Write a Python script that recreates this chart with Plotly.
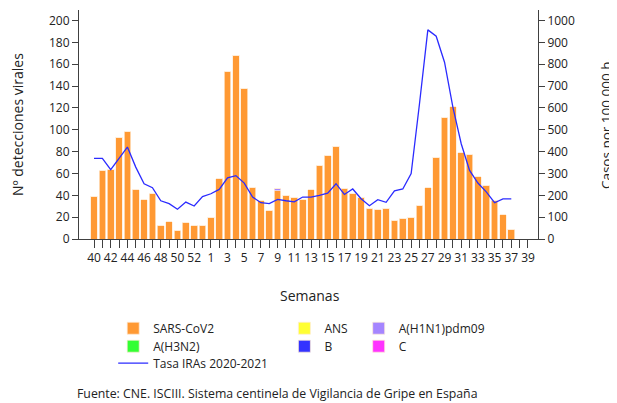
import plotly.graph_objects as go

weeks = [str(w) for w in range(40, 54)] + [str(w) for w in range(1, 40)]

sars = [39, 63, 64, 93, 98, 45, 36, 42, 12, 16, 8, 15, 12, 12,
        20, 55, 153, 168, 138, 47, 35, 26, 44, 40, 38, 36, 45, 67, 76, 85,
        46, 42, 38, 28, 27, 28, 17, 19, 20, 31, 47, 75, 111, 121, 79, 77,
        57, 49, 35, 22, 9, None, None]
h3n2 = [0] * 53
ans = [0] * 53
b_vals = [0] * 53
h1n1 = [0] * 53
h1n1[22] = 2
c_vals = [0] * 53

tasa = [369, 369, 317, 369, 421, 329, 253, 235, 175, 162, 136, 169, 151, 194,
        207, 227, 280, 290, 256, 192, 166, 162, 181, 175, 170, 192, 192, 200,
        210, 253, 204, 229, 184, 152, 180, 168, 220, 229, 299, 619, 957, 928,
        809, 604, 436, 314, 256, 216, 166, 184, 184, None, None]

tick_text = [w if i % 2 == 0 else "" for i, w in enumerate(weeks)]

FONT = "Open Sans"
TXT = "#222222"
AX = "#404040"

# page offset (browser body margin)
OFF = 8
FIG_W, FIG_H = 617 - OFF, 403 - OFF

# plot area geometry in page px
L, R, T, B = 79.3, 538.3, 9.5, 238.7
W, H = R - L, B - T


def px(xp):
    return (xp - L) / W


def py(yp):
    return (B - yp) / H


fig = go.Figure()

bar_line = dict(color="rgba(255,235,215,0.9)", width=0.8)
series = [
    ("SARS-CoV2", sars, "#FF9933", "legend"),
    ("A(H3N2)", h3n2, "#33FF33", "legend2"),
    ("ANS", ans, "#FFFF33", "legend3"),
    ("B", b_vals, "#3333FF", "legend4"),
    ("A(H1N1)pdm09", h1n1, "#A585FF", "legend5"),
    ("C", c_vals, "#FF33FF", "legend6"),
]
for name, vals, col, lg in series:
    fig.add_trace(go.Bar(
        x=weeks, y=vals, name=name, marker=dict(color=col, line=bar_line),
        legend=lg, yaxis="y",
    ))

fig.add_trace(go.Scatter(
    x=weeks, y=tasa, name="Tasa IRAs 2020-2021", mode="lines",
    line=dict(color="#2B2BFF", width=1.3), yaxis="y2", legend="legend7",
))

# legend placements (swatch center px positions, page coords)
col_x = [133.5, 304.7, 379.0]
row_y = [328, 346, 363]
pos = {
    "legend": (col_x[0], row_y[0]),
    "legend2": (col_x[0], row_y[1]),
    "legend7": (col_x[0], row_y[2]),
    "legend3": (col_x[1], row_y[0]),
    "legend4": (col_x[1], row_y[1]),
    "legend5": (col_x[2], row_y[0]),
    "legend6": (col_x[2], row_y[1]),
}
leg_layout = {}
for k, (cx, cy) in pos.items():
    leg_layout[k] = dict(
        x=px(cx - 20), y=py(cy), xanchor="left", yanchor="middle",
        bgcolor="rgba(0,0,0,0)", font=dict(family=FONT, size=12, color=TXT),
        borderwidth=0, tracegroupgap=0,
    )

fig.update_layout(
    width=FIG_W, height=FIG_H,
    margin=dict(l=L - OFF, r=617 - R, t=T - OFF, b=403 - B, pad=0),
    paper_bgcolor="white", plot_bgcolor="white",
    barmode="stack", bargap=0.2,
    showlegend=True,
    font=dict(family=FONT, size=12, color=TXT),
    xaxis=dict(
        type="category", range=[-1.8, 53.2],
        tickmode="array", tickvals=weeks, ticktext=tick_text,
        ticks="outside", ticklen=8, tickwidth=1, tickcolor=AX,
        showline=True, linecolor=AX, linewidth=1,
        showgrid=False, zeroline=False, tickangle=0,
        tickfont=dict(family=FONT, size=12, color=TXT),
    ),
    yaxis=dict(
        range=[0, 209.6], tickvals=list(range(0, 201, 20)),
        ticks="outside", ticklen=6, tickcolor=AX,
        showline=True, linecolor=AX, linewidth=1,
        showgrid=False, zeroline=False,
        tickfont=dict(family=FONT, size=12, color=TXT),
    ),
    yaxis2=dict(
        overlaying="y", side="right",
        range=[0, 1048], tickvals=list(range(0, 1001, 100)),
        ticks="outside", ticklen=6, tickcolor=AX,
        showline=True, linecolor=AX, linewidth=1,
        showgrid=False, zeroline=False,
        tickfont=dict(family=FONT, size=12, color=TXT),
    ),
    annotations=[
        dict(text="Nº detecciones virales", x=px(18), y=py(124), xref="paper", yref="paper",
             textangle=-90, showarrow=False, xanchor="center", yanchor="middle",
             font=dict(family=FONT, size=14, color=TXT)),
        dict(text="Casos por 100.000 h.", x=px(607), y=py(123), xref="paper", yref="paper",
             textangle=-90, showarrow=False, xanchor="center", yanchor="middle",
             font=dict(family=FONT, size=13.5, color=TXT)),
        dict(text="Semanas", x=px(310), y=py(295), xref="paper", yref="paper",
             showarrow=False, xanchor="center", yanchor="middle",
             font=dict(family=FONT, size=14, color=TXT)),
        dict(text="Fuente: CNE. ISCIII. Sistema centinela de Vigilancia de Gripe en España",
             x=px(75), y=py(393), xref="paper", yref="paper",
             showarrow=False, xanchor="left", yanchor="middle",
             font=dict(family=FONT, size=12.3, color=TXT)),
    ],
    **leg_layout,
)

fig.write_html("out.html")
